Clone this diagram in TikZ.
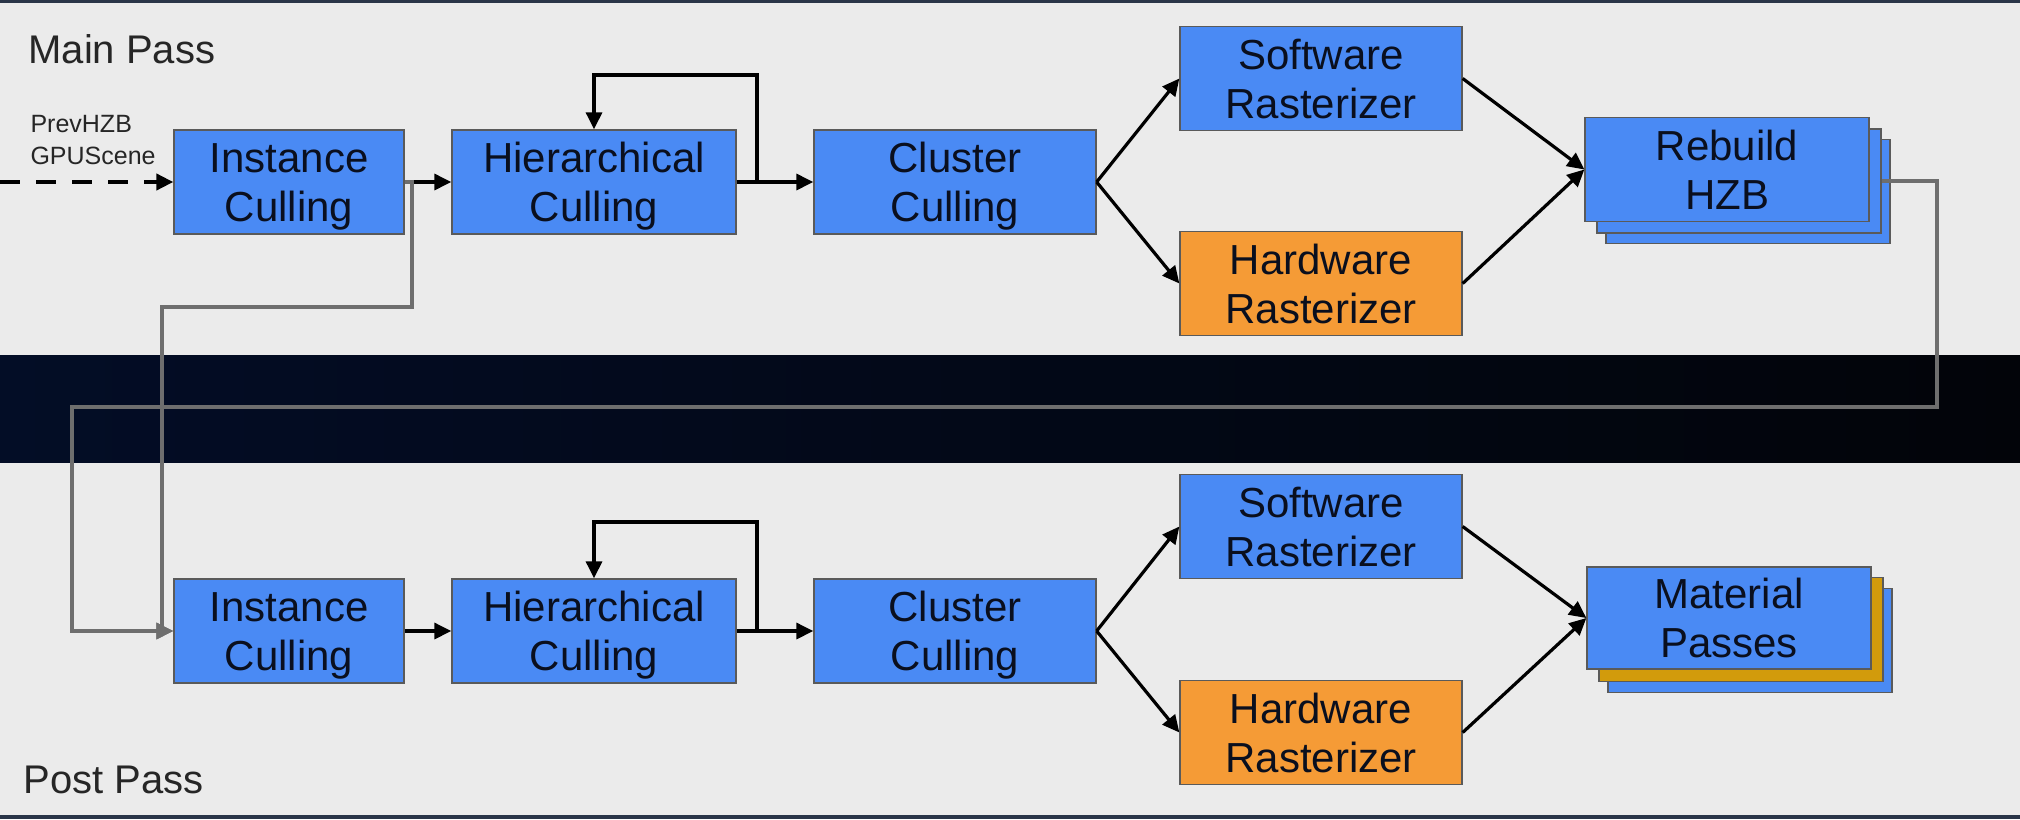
\documentclass[tikz,border=0pt]{standalone}
\usepackage{fontspec}
\setmainfont{Liberation Sans}
\usetikzlibrary{arrows.meta}
\definecolor{bgl}{HTML}{EBEBEB}
\definecolor{navyl}{HTML}{030D26}
\definecolor{navyr}{HTML}{020409}
\definecolor{frame}{HTML}{2A3548}
\definecolor{boxblue}{HTML}{4A8AF4}
\definecolor{boxorange}{HTML}{F59B36}
\definecolor{boxyellow}{HTML}{D29B0C}
\definecolor{boxline}{HTML}{5A5A5A}
\definecolor{txt}{HTML}{0A0F1E}
\definecolor{lbl}{HTML}{262626}
\definecolor{greyln}{HTML}{6E6E6E}
\newcommand\myupstrut{\rule{0pt}{40pt}}
\newcommand\mydnstrut{\rule[-10pt]{0pt}{0pt}}
\newcommand\twolines[2]{\myupstrut #1\\#2\mydnstrut}
\begin{document}
\begin{tikzpicture}[x=1pt,y=-1pt,
  box/.style={draw=boxline,line width=1.3pt,fill=boxblue,inner sep=0pt,
    minimum height=104pt,text=txt,align=center,
    font=\fontsize{42}{49}\selectfont},
  orangebox/.style={box,fill=boxorange},
  backbox/.style={draw=boxline,line width=1.3pt,fill=boxblue,inner sep=0pt,
    minimum width=284pt,minimum height=104pt},
  arr/.style={draw=black,line width=3.2pt,-{Triangle[length=17pt,width=16pt]}},
  greyarr/.style={draw=greyln,line width=3.2pt,-{Triangle[length=17pt,width=16pt]}},
  passlbl/.style={anchor=base west,text=lbl,font=\fontsize{40}{48}\selectfont},
  inlbl/.style={anchor=base west,text=lbl,font=\fontsize{25}{32}\selectfont}]
\useasboundingbox (0,0) rectangle (2020,819);
% backgrounds
\fill[bgl] (0,0) rectangle (2020,355);
\shade[left color=navyl,right color=navyr] (0,355) rectangle (2020,463);
\fill[bgl] (0,463) rectangle (2020,819);
\fill[frame] (0,0) rectangle (2020,3);
\fill[frame] (0,815) rectangle (2020,819);
% labels
\node[passlbl] (mainlbl) at (25,63) {Main Pass};
\node[passlbl] (postlbl) at (20,793) {Post Pass};
\node[inlbl] (prevlbl) at (27,132) {PrevHZB};
\node[inlbl] (gpulbl) at (27,164) {GPUScene};
% main pass boxes
\node[box,minimum width=230pt] (ic1) at (289,182) {\twolines{Instance}{Culling}};
\node[box,minimum width=284pt] (hc1) at (594,182) {\twolines{Hierarchical}{Culling}};
\node[box,minimum width=282pt] (cc1) at (955,182) {\twolines{Cluster}{Culling}};
\node[box,minimum width=282pt] (sw1) at (1321,78.5) {\twolines{Software}{Rasterizer}};
\node[orangebox,minimum width=282pt] (hw1) at (1321,283.5) {\twolines{Hardware}{Rasterizer}};
\node[backbox] (rb3) at (1748,191.5) {};
\node[backbox] (rb2) at (1739,181) {};
\node[box,minimum width=284pt] (rb1) at (1727,169.5) {\twolines{Rebuild}{HZB}};
% post pass boxes
\node[box,minimum width=230pt] (ic2) at (289,631) {\twolines{Instance}{Culling}};
\node[box,minimum width=284pt] (hc2) at (594,631) {\twolines{Hierarchical}{Culling}};
\node[box,minimum width=282pt] (cc2) at (955,631) {\twolines{Cluster}{Culling}};
\node[box,minimum width=282pt] (sw2) at (1321,526.5) {\twolines{Software}{Rasterizer}};
\node[orangebox,minimum width=282pt] (hw2) at (1321,732.5) {\twolines{Hardware}{Rasterizer}};
\node[backbox] (mp3) at (1750,640.5) {};
\node[backbox,fill=boxyellow] (mp2) at (1741,629.5) {};
\node[box,minimum width=284pt,minimum height=102pt] (mp1) at (1729,618) {\twolines{Material}{Passes}};
% main pass connectors
\coordinate (in0) at (0,182);
\draw[arr,line width=4pt,dash pattern=on 20pt off 16pt] (in0) -- (ic1.west);
\draw[arr] (ic1.east) -- (hc1.west);
\draw[arr] (hc1.east) -- (cc1.west);
\draw[arr] (hc1.east) -- (757,182) -- (757,75) -- (594,75) -- (hc1.north);
\draw[arr] (cc1.east) -- (sw1.west);
\draw[arr] (cc1.east) -- (hw1.west);
\draw[arr] (sw1.east) -- (rb1.west);
\draw[arr] (hw1.east) -- (rb1.west);
% post pass connectors
\draw[arr] (ic2.east) -- (hc2.west);
\draw[arr] (hc2.east) -- (cc2.west);
\draw[arr] (hc2.east) -- (757,631) -- (757,522) -- (594,522) -- (hc2.north);
\draw[arr] (cc2.east) -- (sw2.west);
\draw[arr] (cc2.east) -- (hw2.west);
\draw[arr] (sw2.east) -- (mp1.west);
\draw[arr] (hw2.east) -- (mp1.west);
% grey feedback connectors
\draw[greyarr] (rb2.east) -- (1937,181) -- (1937,407) -- (72,407) |- (ic2.west);
\draw[greyarr] (ic1.east) -- (412,182) -- (412,307) -- (162,307) |- (ic2.west);
\end{tikzpicture}
\end{document}
